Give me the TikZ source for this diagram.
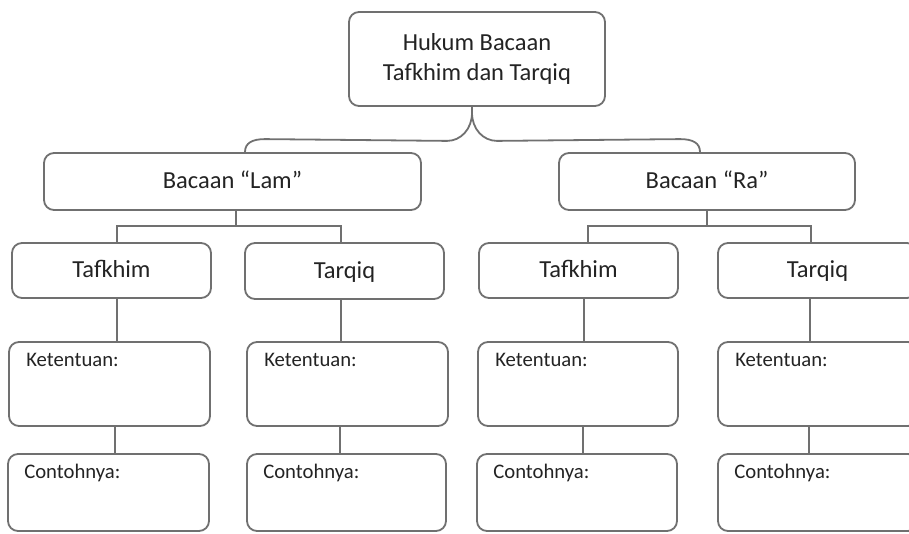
\documentclass[tikz,border=0pt]{standalone}
\usepackage{fontspec}
\setmainfont{Carlito}
\definecolor{linegray}{RGB}{112,112,112}
\definecolor{textgray}{RGB}{35,35,35}
\tikzset{
  box/.style={draw=linegray, line width=1.8pt, rounded corners=10pt, inner sep=0pt, text=textgray, font=\fontsize{24.5}{30}\selectfont, text height=17pt, text depth=3pt},
  topbox/.style={draw=linegray, line width=1.8pt, rounded corners=10pt, inner sep=0pt, text=textgray, font=\fontsize{24.5}{30}\selectfont, align=center},
  conn/.style={draw=linegray, line width=1.8pt},
  lbl/.style={anchor=base west, text=textgray, font=\fontsize{20.7}{24}\selectfont, inner sep=0pt}
}
\begin{document}
\begin{tikzpicture}[x=1pt,y=-1pt]
\useasboundingbox (0,0) rectangle (909,533);
\clip (0,0) rectangle (909,533);
% top
\node[topbox, minimum width=256pt, minimum height=94pt] (top) at (477,59) {Hukum Bacaan\\Tafkhim dan Tarqiq};
% second level
\node[box, minimum width=377pt, minimum height=57pt] (lam) at (232.5,181.5) {Bacaan “Lam”};
\node[box, minimum width=296pt, minimum height=57pt] (ra) at (707,181.5) {Bacaan “Ra”};
% third level
\node[box, minimum width=199pt, minimum height=55pt] (t1) at (111.5,270.5) {Tafkhim};
\node[box, minimum width=199pt, minimum height=56pt] (t2) at (344.5,271) {Tarqiq};
\node[box, minimum width=199pt, minimum height=55pt] (t3) at (578.5,270.5) {Tafkhim};
\node[box, minimum width=199pt, minimum height=55pt] (t4) at (817.5,270.5) {Tarqiq};
% ketentuan
\node[box, minimum width=201pt, minimum height=84pt] (k1) at (109.5,384) {};
\node[box, minimum width=201pt, minimum height=84pt] (k2) at (347.5,384) {};
\node[box, minimum width=200pt, minimum height=84pt] (k3) at (578,384) {};
\node[box, minimum width=200pt, minimum height=84pt] (k4) at (818,384) {};
% contohnya
\node[box, minimum width=201pt, minimum height=77pt] (c1) at (108.5,492.5) {};
\node[box, minimum width=199pt, minimum height=77pt] (c2) at (346.5,492.5) {};
\node[box, minimum width=200pt, minimum height=77pt] (c3) at (577,492.5) {};
\node[box, minimum width=200pt, minimum height=77pt] (c4) at (818,492.5) {};
% labels
\foreach \n in {1,2,3,4}{
  \node[lbl] (kl\n) at ([shift={(18pt,-25pt)}]k\n.north west) {Ketentuan:};
  \node[lbl] (cl\n) at ([shift={(17pt,-25pt)}]c\n.north west) {Contohnya:};
}
% brace from top box
\draw[conn] ([xshift=-5pt]top.south) -- ++(0,6) .. controls +(0,16) and +(14,0) .. ++(-25,28)
  -- ([shift={(32.5pt,13pt)}]lam.north) .. controls +(-13,0) and +(0,-9) .. ([xshift=12.5pt]lam.north);
\draw[conn] ([shift={(-5pt,-6pt)}]top.south) .. controls +(0,16) and +(-14,0) .. ++(25,28)
  -- ([shift={(-27pt,13pt)}]ra.north) .. controls +(13,0) and +(0,-9) .. ([xshift=-7pt]ra.north);
% Lam branch
\draw[conn] ([xshift=3.5pt]lam.south) -- ++(0,15) coordinate (lj);
\draw[conn] ([xshift=5.5pt]t1.north) |- (lj) -| ([xshift=-3.5pt]t2.north);
% Ra branch
\draw[conn] (ra.south) -- ++(0,15) coordinate (rj);
\draw[conn] ([xshift=9.5pt]t3.north) |- (rj) -| ([xshift=-6.5pt]t4.north);
% verticals
\draw[conn] ([xshift=5.5pt]t1.south) -- ([xshift=5.5pt]t1.south |- k1.north);
\draw[conn] ([xshift=5.5pt]k1.south) -- ([xshift=5.5pt]k1.south |- c1.north);
\draw[conn] ([xshift=-3.5pt]t2.south) -- ([xshift=-3.5pt]t2.south |- k2.north);
\draw[conn] ([xshift=-7.5pt]k2.south) -- ([xshift=-7.5pt]k2.south |- c2.north);
\draw[conn] ([xshift=5.5pt]t3.south) -- ([xshift=5.5pt]t3.south |- k3.north);
\draw[conn] ([xshift=5pt]k3.south) -- ([xshift=5pt]k3.south |- c3.north);
\draw[conn] ([xshift=-7.5pt]t4.south) -- ([xshift=-7.5pt]t4.south |- k4.north);
\draw[conn] ([xshift=-9pt]k4.south) -- ([xshift=-9pt]k4.south |- c4.north);
\end{tikzpicture}
\end{document}
